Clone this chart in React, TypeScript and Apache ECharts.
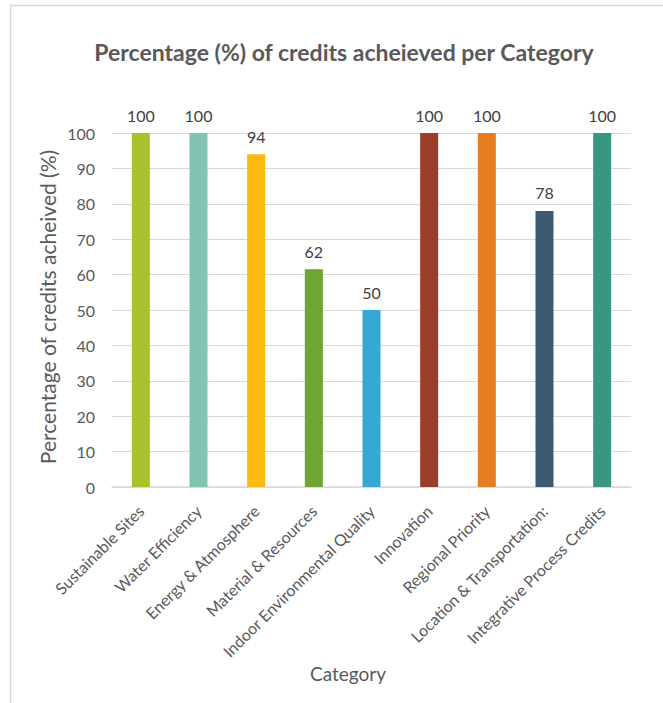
import React, { useEffect, useRef } from "react";
import * as echarts from "echarts";

const categories = [
  "Sustainable Sites",
  "Water Efficiency",
  "Energy & Atmosphere",
  "Material & Resources",
  "Indoor Environmental Quality",
  "Innovation",
  "Regional Priority",
  "Location & Transportation:",
  "Integrative Process Credits",
];
const values = [100, 100, 94, 61.5, 50, 100, 100, 78, 100];
const colors = [
  "#A9C22B",
  "#82C3B1",
  "#FDB913",
  "#6FA532",
  "#35A8D3",
  "#9B3D2B",
  "#E57E22",
  "#3C5A72",
  "#379780",
];
const yTicks = { min: 0, max: 100, interval: 10 };
const titleText = "Percentage (%) of credits acheieved per Category";
const xName = "Category";
const yName = "Percentage of credits acheived (%)";

const FONT = "Lato, 'Noto Sans', sans-serif";
const TXT = "#595959";

export default function App() {
  const ref = useRef<HTMLDivElement>(null);
  useEffect(() => {
    document.body.style.margin = "0";
    const chart = echarts.init(ref.current!, null, { renderer: "svg" });
    chart.setOption({
      animation: false,
      backgroundColor: "#ffffff",
      textStyle: { fontFamily: FONT },
      graphic: [
        {
          type: "rect",
          shape: { x: 10.5, y: 5.5, width: 720, height: 740 },
          style: { fill: "none", stroke: "#d9d9d9", lineWidth: 1.5 },
          silent: true,
        },
        {
          type: "text",
          x: 344,
          y: 52,
          style: {
            text: titleText,
            fontFamily: FONT,
            fontSize: 23,
            fontWeight: "bold",
            fill: TXT,
            textAlign: "center",
            textVerticalAlign: "middle",
          },
        },
        {
          type: "text",
          x: 348,
          y: 673,
          style: {
            text: xName,
            fontFamily: FONT,
            fontSize: 19,
            fill: TXT,
            textAlign: "center",
            textVerticalAlign: "middle",
          },
        },
        {
          type: "text",
          x: 47,
          y: 307,
          rotation: Math.PI / 2,
          style: {
            text: yName,
            fontFamily: FONT,
            fontSize: 21,
            fill: TXT,
            textAlign: "center",
            textVerticalAlign: "middle",
          },
        },
      ],
      grid: { left: 112, right: 32, top: 133, bottom: 216, containLabel: false },
      xAxis: {
        type: "category",
        data: categories,
        axisLine: { lineStyle: { color: "#d9d9d9", width: 1.5 } },
        axisTick: { show: false },
        axisLabel: {
          rotate: 45,
          interval: 0,
          color: TXT,
          fontSize: 16,
          fontFamily: FONT,
          margin: 21,
        },
      },
      yAxis: {
        type: "value",
        min: yTicks.min,
        max: yTicks.max,
        interval: yTicks.interval,
        axisLine: { show: false },
        axisTick: { show: false },
        axisLabel: { color: TXT, fontSize: 16, fontFamily: FONT, margin: 17 },
        splitLine: { lineStyle: { color: "#d9d9d9", width: 1.2 } },
      },
      series: [
        {
          type: "bar",
          data: values.map((v, i) => ({ value: v, itemStyle: { color: colors[i] } })),
          barWidth: 18,
          label: {
            show: true,
            position: "top",
            distance: 10,
            color: "#404040",
            fontSize: 16,
            fontFamily: FONT,
            formatter: (p: any) => String(Math.round(p.value)),
          },
        },
      ],
    });
    return () => chart.dispose();
  }, []);
  return <div ref={ref} style={{ width: 663, height: 703 }} />;
}
